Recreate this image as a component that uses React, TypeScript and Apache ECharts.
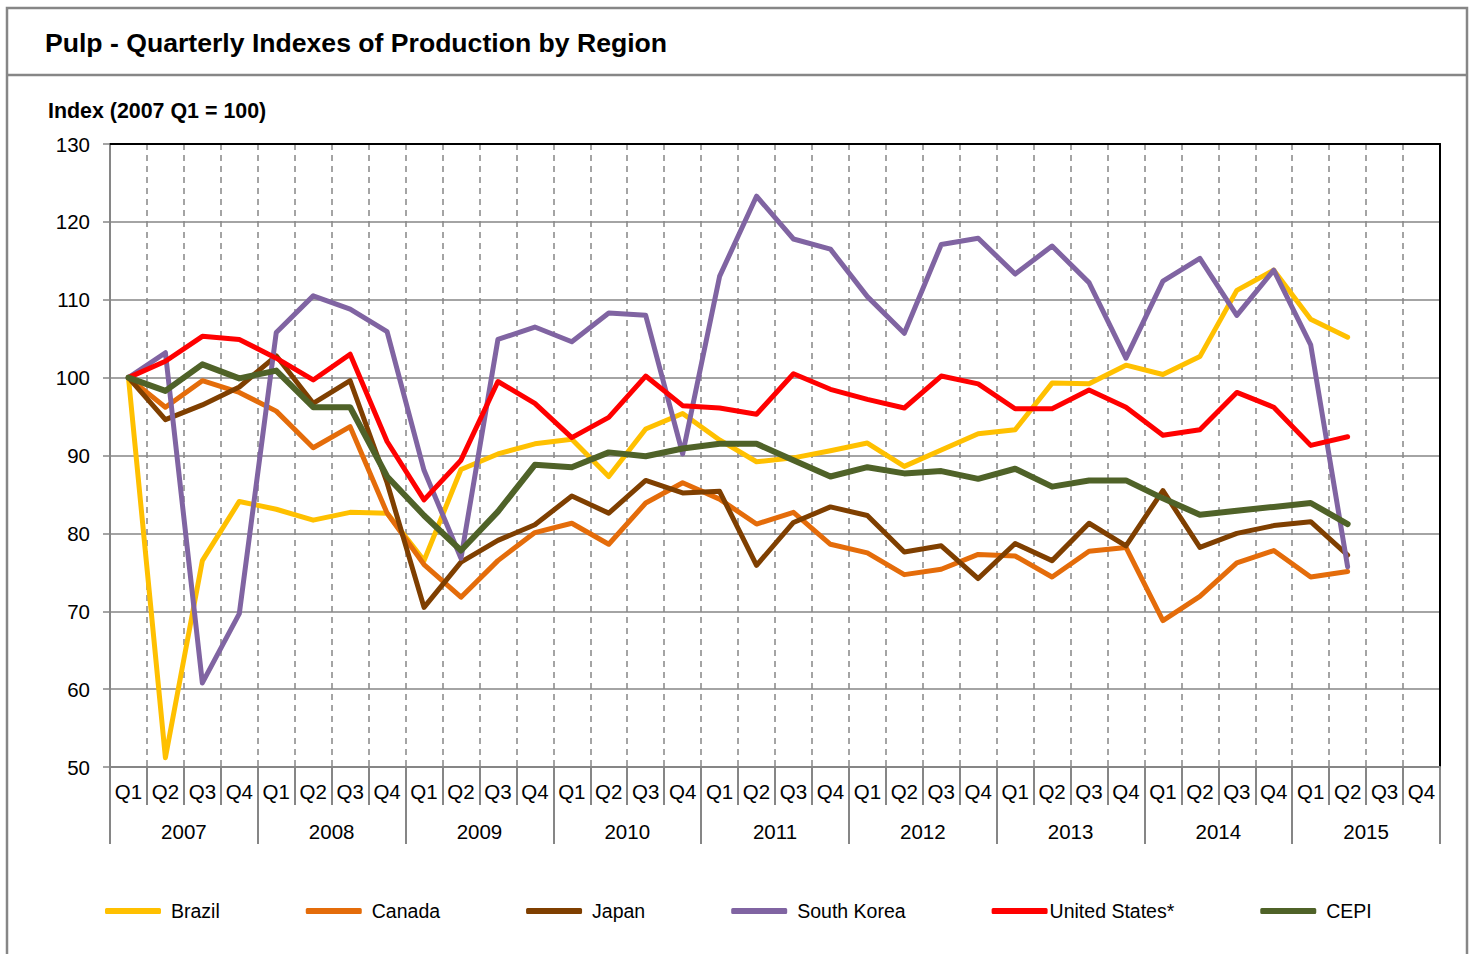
import React, { useEffect, useRef } from "react";
import * as echarts from "echarts";

const years = ["2007", "2008", "2009", "2010", "2011", "2012", "2013", "2014", "2015"];
const quarterNames = ["Q1", "Q2", "Q3", "Q4"];

const brazil = [100, 51.2, 76.5, 84.1, 83.1, 81.7, 82.7, 82.6, 76.5, 88.2, 90.2, 91.5, 92.1, 87.3, 93.4, 95.4, 92.0, 89.2, 89.7, 90.6, 91.6, 88.6, 90.7, 92.8, 93.3, 99.3, 99.2, 101.6, 100.4, 102.7, 111.2, 113.8, 107.5, 105.2];
const canada = [100, 96.2, 99.6, 98.1, 95.7, 91.0, 93.7, 82.6, 76.0, 71.8, 76.5, 80.1, 81.3, 78.6, 83.9, 86.5, 84.4, 81.2, 82.7, 78.6, 77.5, 74.7, 75.4, 77.3, 77.1, 74.4, 77.7, 78.2, 68.8, 71.9, 76.2, 77.8, 74.4, 75.1];
const japan = [100, 94.6, 96.5, 98.8, 102.8, 96.7, 99.6, 86.5, 70.5, 76.3, 79.1, 81.1, 84.8, 82.6, 86.8, 85.2, 85.4, 75.9, 81.4, 83.4, 82.3, 77.6, 78.4, 74.2, 78.7, 76.5, 81.3, 78.4, 85.5, 78.2, 80.0, 81.0, 81.5, 77.2];
const southKorea = [100, 103.2, 60.8, 69.7, 105.8, 110.5, 108.8, 105.9, 88.1, 76.8, 104.9, 106.5, 104.6, 108.3, 108.0, 90.2, 113.0, 123.3, 117.8, 116.5, 110.4, 105.7, 117.1, 117.9, 113.3, 116.9, 112.2, 102.5, 112.4, 115.3, 108.0, 113.8, 104.2, 75.7];
const unitedStates = [100, 102.1, 105.3, 104.9, 102.5, 99.7, 103.0, 91.8, 84.3, 89.4, 99.5, 96.7, 92.3, 94.9, 100.2, 96.4, 96.1, 95.3, 100.5, 98.5, 97.2, 96.1, 100.2, 99.2, 96.0, 96.0, 98.4, 96.2, 92.6, 93.3, 98.1, 96.2, 91.3, 92.4];
const cepi = [100, 98.3, 101.7, 99.9, 100.9, 96.2, 96.2, 87.3, 82.3, 77.8, 82.8, 88.8, 88.5, 90.4, 89.9, 90.9, 91.5, 91.5, 89.4, 87.3, 88.5, 87.7, 88.0, 87.0, 88.3, 86.0, 86.8, 86.8, 84.5, 82.4, 82.9, 83.4, 83.9, 81.2];

const seriesNames = ["Brazil", "Canada", "Japan", "South Korea", "United States*", "CEPI"];
const seriesColors = ["#FFC000", "#E46C0A", "#7F3F00", "#8064A2", "#FF0000", "#4F6228"];
const seriesWidths = [5, 5, 5, 5, 5, 6];
const legendTextPad = [5, 5, 5, 5, -3, 5];
const seriesData = [brazil, canada, japan, southKorea, unitedStates, cepi];

const FONT = "'Liberation Sans', Arial, sans-serif";
const GRAY = "#868686";

export default function App() {
  const ref = useRef<HTMLDivElement>(null);

  useEffect(() => {
    if (!ref.current) return;
    const chart = echarts.init(ref.current, null, { renderer: "svg" });
    const categories: string[] = [];
    years.forEach((y) => quarterNames.forEach((q) => categories.push(q)));

    const option: any = {
      animation: false,
      backgroundColor: "#fff",
      title: [
        {
          text: "Pulp - Quarterly Indexes of Production by Region",
          left: 40,
          top: 24,
          textStyle: { fontFamily: FONT, fontSize: 26.6, fontWeight: "bold", color: "#000" },
        },
        {
          text: "Index (2007 Q1 = 100)",
          left: 43,
          top: 95,
          textStyle: { fontFamily: FONT, fontSize: 21.4, fontWeight: "bold", color: "#000" },
        },
      ],
      graphic: [
        {
          type: "rect",
          shape: { x: 7, y: 8, width: 1460, height: 990 },
          style: { fill: "none", stroke: GRAY, lineWidth: 2.5 },
          silent: true,
        },
        {
          type: "line",
          shape: { x1: 7, y1: 75, x2: 1467, y2: 75 },
          style: { stroke: GRAY, lineWidth: 2.5 },
          silent: true,
        },
      ],
      legend: {
        left: 100,
        top: 896,
        itemWidth: 56,
        itemHeight: 6,
        itemGap: 86,
        icon: "roundRect",
        textStyle: { fontFamily: FONT, fontSize: 19.5, color: "#000" },
        data: seriesNames.map((n, i) => ({
          name: n,
          itemStyle: { color: seriesColors[i] },
          textStyle: { fontFamily: FONT, fontSize: 19.5, color: "#000", padding: [0, 0, 0, legendTextPad[i]] },
        })),
      },
      grid: { left: 110, right: 33, top: 144, bottom: 187 },
      xAxis: [
        {
          type: "category",
          data: categories,
          position: "bottom",
          boundaryGap: true,
          axisLine: { lineStyle: { color: GRAY, width: 2 } },
          axisTick: { show: true, interval: 0, length: 38, lineStyle: { color: GRAY, width: 2 } },
          axisLabel: { interval: 0, margin: 14, fontFamily: FONT, fontSize: 20.5, color: "#000" },
          splitLine: { show: true, interval: 0, lineStyle: { color: GRAY, width: 1.5, type: [6, 5] } },
        },
        {
          type: "category",
          data: years,
          position: "bottom",
          boundaryGap: true,
          axisLine: { show: false },
          axisTick: { show: true, interval: 0, length: 77, lineStyle: { color: GRAY, width: 2 } },
          axisLabel: { interval: 0, margin: 54, fontFamily: FONT, fontSize: 20.5, color: "#000" },
          splitLine: { show: false },
        },
        {
          type: "category",
          data: categories,
          position: "top",
          boundaryGap: true,
          axisLine: { show: true, lineStyle: { color: "#000", width: 2 } },
          axisTick: { show: false },
          axisLabel: { show: false },
          splitLine: { show: false },
        },
      ],
      yAxis: [
        {
          type: "value",
          min: 50,
          max: 130,
          interval: 10,
          axisLine: { show: true, lineStyle: { color: GRAY, width: 2 } },
          axisTick: { show: true, length: 7, lineStyle: { color: GRAY, width: 1.5 } },
          axisLabel: { margin: 20, fontFamily: FONT, fontSize: 20.5, color: "#000" },
          splitLine: { show: true, lineStyle: { color: GRAY, width: 1.5 } },
        },
        {
          type: "value",
          min: 50,
          max: 130,
          interval: 10,
          position: "right",
          axisLine: { show: true, lineStyle: { color: "#000", width: 2 } },
          axisTick: { show: false },
          axisLabel: { show: false },
          splitLine: { show: false },
        },
      ],
      series: seriesNames.map((n, i) => ({
        name: n,
        type: "line",
        xAxisIndex: 0,
        yAxisIndex: 0,
        data: seriesData[i],
        symbol: "none",
        color: seriesColors[i],
        lineStyle: { color: seriesColors[i], width: seriesWidths[i], cap: "round", join: "round" },
        z: 3 + i,
      })),
    };
    chart.setOption(option);
    return () => chart.dispose();
  }, []);

  return (
    <div
      ref={ref}
      style={{ position: "absolute", left: 0, top: 0, width: 1473, height: 954 }}
    />
  );
}
